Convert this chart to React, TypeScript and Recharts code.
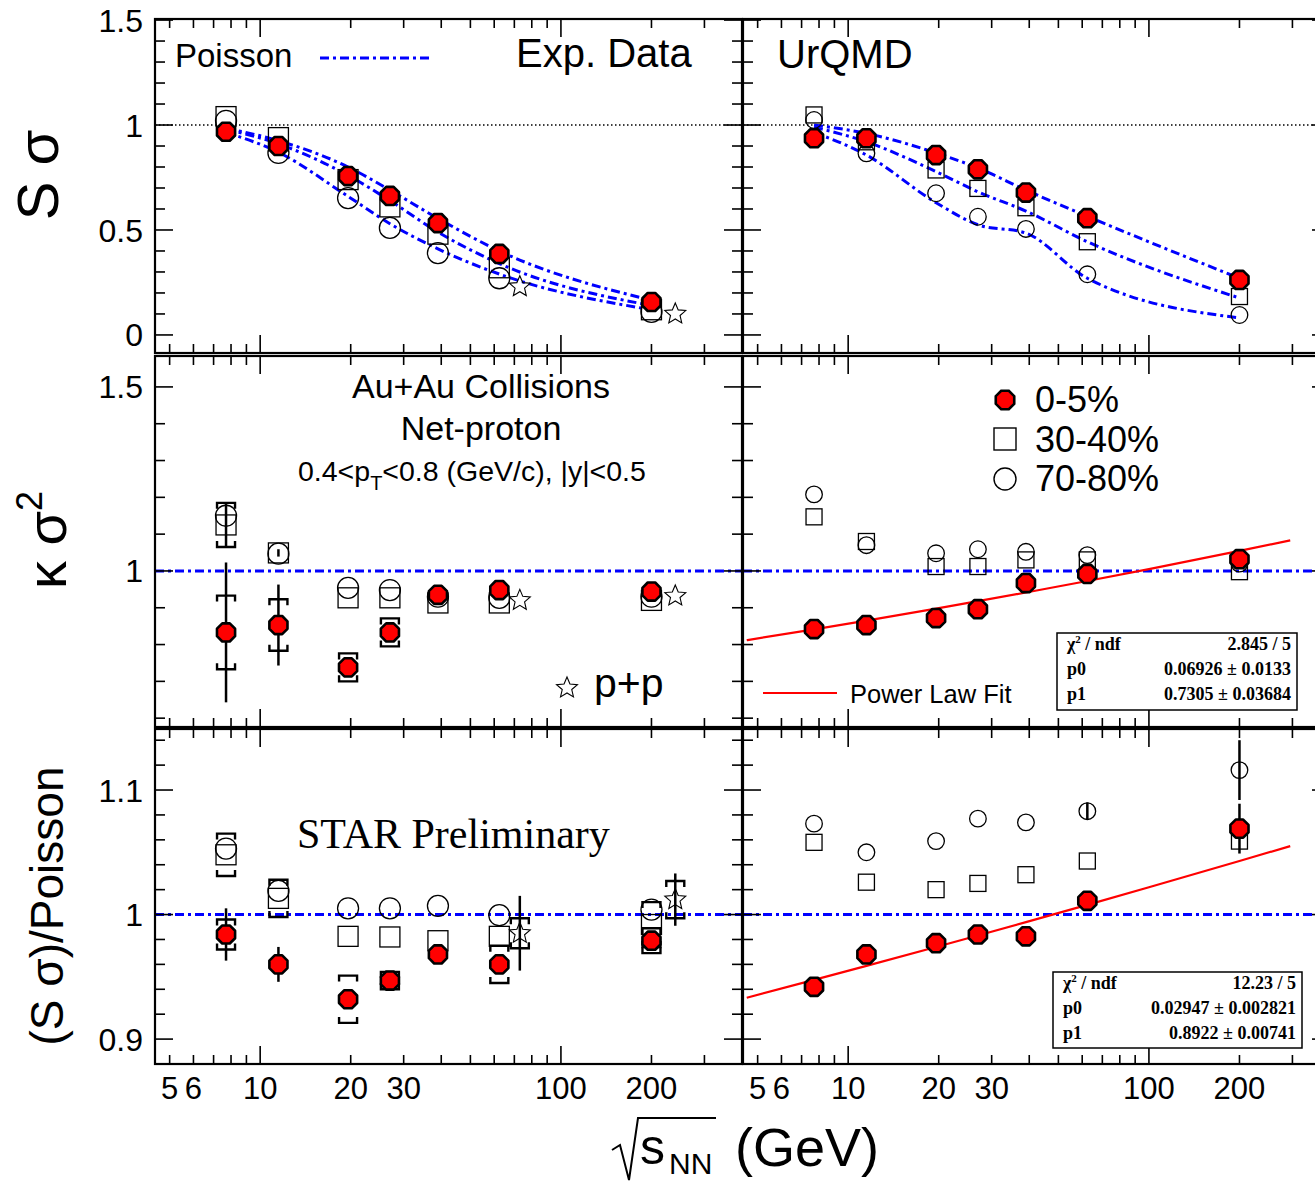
import React from 'react';
import { ComposedChart, Scatter, Line, XAxis, YAxis, ReferenceLine, ErrorBar } from 'recharts';

// ---------------- data ----------------
// Au+Au beam energies, sqrt(s_NN) in GeV
const energies = [7.7, 11.5, 19.6, 27, 39, 62.4, 200];
// p+p reference points, drawn just to the right of 62.4 and 200 GeV
const ppEnergies = [73, 240];

// S*sigma, measured (0-5%, 30-40%, 70-80%) and p+p
const expSsig0to5 = [0.968, 0.9, 0.757, 0.662, 0.533, 0.386, 0.157];
const expSsig30to40 = [1.04, 0.94, 0.74, 0.61, 0.48, 0.32, 0.12];
const expSsig70to80 = [1.02, 0.867, 0.652, 0.51, 0.39, 0.27, 0.11];
const ppSsig = [0.23, 0.1];
// Poisson baselines for the measured S*sigma
const poissonExp0to5 = [0.985, 0.925, 0.8, 0.69, 0.555, 0.4, 0.165];
const poissonExp30to40 = [0.98, 0.91, 0.76, 0.64, 0.49, 0.34, 0.14];
const poissonExp70to80 = [0.965, 0.87, 0.66, 0.53, 0.41, 0.29, 0.12];

// S*sigma, UrQMD
const urqSsig0to5 = [0.937, 0.937, 0.857, 0.789, 0.678, 0.556, 0.262];
const urqSsig30to40 = [1.048, 0.92, 0.786, 0.698, 0.606, 0.444, 0.183];
const urqSsig70to80 = [1.024, 0.865, 0.675, 0.563, 0.505, 0.289, 0.095];
const poissonUrq0to5 = [1.0, 0.96, 0.867, 0.795, 0.69, 0.565, 0.27];
const poissonUrq30to40 = [0.99, 0.92, 0.778, 0.682, 0.59, 0.444, 0.176];
const poissonUrq70to80 = [0.965, 0.857, 0.63, 0.525, 0.485, 0.27, 0.081];

// kappa*sigma^2, measured
const expKsig0to5 = [0.833, 0.853, 0.738, 0.833, 0.935, 0.948, 0.944];
const expKsig0to5Stat = [0.19, 0.11, 0.015, 0.01, 0.008, 0.008, 0.008];
const expKsig0to5Sys = [0.1, 0.07, 0.038, 0.038, 0, 0, 0];
const expKsig30to40 = [1.125, 1.049, 0.927, 0.927, 0.913, 0.913, 0.92];
const expKsig30to40Stat = [0.06, 0.01, 0, 0, 0, 0, 0];
const expKsig30to40Sys = [0.06, 0, 0, 0, 0, 0, 0];
const expKsig70to80 = [1.15, 1.047, 0.954, 0.948, 0.93, 0.927, 0.93];
const ppKsig = [0.92, 0.932];

// kappa*sigma^2, UrQMD
const urqKsig0to5 = [0.842, 0.853, 0.872, 0.896, 0.967, 0.992, 1.032];
const urqKsig30to40 = [1.147, 1.08, 1.012, 1.012, 1.03, 1.03, 0.998];
const urqKsig70to80 = [1.208, 1.07, 1.048, 1.059, 1.052, 1.043, 1.02];

// (S*sigma)/Poisson, measured
const expRatio0to5 = [0.984, 0.96, 0.932, 0.947, 0.968, 0.96, 0.979];
const expRatio0to5Stat = [0.021, 0.014, 0.004, 0.004, 0.003, 0.004, 0.004];
const expRatio0to5Sys = [0.012, 0, 0.019, 0.007, 0, 0.015, 0.01];
const expRatio30to40 = [1.048, 1.013, 0.9825, 0.982, 0.979, 0.9825, 0.992];
const expRatio30to40Sys = [0.017, 0.015, 0, 0, 0, 0, 0.018];
const expRatio70to80 = [1.053, 1.019, 1.005, 1.005, 1.007, 0.9995, 1.004];
const ppRatio = [0.985, 1.012];
const ppRatioStat = [0.03, 0.021];
const ppRatioSys = [0.012, 0.015];

// (S*sigma)/Poisson, UrQMD
const urqRatio0to5 = [0.942, 0.968, 0.977, 0.984, 0.9825, 1.011, 1.069];
const urqRatio0to5Stat = [0, 0, 0, 0, 0, 0, 0.02];
const urqRatio30to40 = [1.058, 1.026, 1.02, 1.025, 1.032, 1.043, 1.059];
const urqRatio70to80 = [1.073, 1.05, 1.059, 1.077, 1.074, 1.083, 1.116];
const urqRatio70to80Stat = [0, 0, 0, 0, 0, 0.007, 0.024];

// power-law fits y = p1 * x^p0 to the UrQMD 0-5% points
const kappaFit = { chi2: '2.845 / 5', p0: 0.06926, p0Err: 0.0133, p1: 0.7305, p1Err: 0.03684 };
const ratioFit = { chi2: '12.23 / 5', p0: 0.02947, p0Err: 0.002821, p1: 0.8922, p1Err: 0.00741 };
const fitRangeX = [4.6, 7.7, 11.5, 19.6, 27, 39, 62.4, 100, 200, 295];

// axis ticks
const xTicks = [5, 6, 7, 8, 9, 10, 20, 30, 40, 50, 60, 70, 80, 90, 100, 200, 300];
const xMajorTicks = [10, 100];
const xTickLabels = [5, 6, 10, 20, 30, 100, 200];
const ySsigTicks = [0, 0.1, 0.2, 0.3, 0.4, 0.5, 0.6, 0.7, 0.8, 0.9, 1, 1.1, 1.2, 1.3, 1.4, 1.5];
const ySsigLabels = [0, 0.5, 1, 1.5];
const yKsigTicks = [0.6, 0.7, 0.8, 0.9, 1, 1.1, 1.2, 1.3, 1.4, 1.5];
const yKsigLabels = [1, 1.5];
const yRatioTicks = [0.88, 0.9, 0.92, 0.94, 0.96, 0.98, 1, 1.02, 1.04, 1.06, 1.08, 1.1, 1.12, 1.14];
const yRatioLabels = [0.9, 1, 1.1];

// ---------------- helpers ----------------
type Pt = { x: number; y: number; err?: number; d?: number };
const pts = (ys: number[], xs: number[] = energies): Pt[] => ys.map((y, i) => ({ x: xs[i], y }));
const ptsErr = (ys: number[], errs: number[], xs: number[] = energies): Pt[] =>
  ys.map((y, i) => ({ x: xs[i], y, err: errs[i] }));
const brackets = (ys: number[], sys: number[], xs: number[] = energies): Pt[] =>
  ys.flatMap((y, i) =>
    sys[i] > 0
      ? [
          { x: xs[i], y: y + sys[i], d: 1 },
          { x: xs[i], y: y - sys[i], d: -1 },
        ]
      : []
  );
const fitCurve = (f: { p0: number; p1: number }): Pt[] =>
  fitRangeX.map((x) => ({ x, y: f.p1 * Math.pow(x, f.p0) }));
const near = (a: number, list: number[]) => list.some((b) => Math.abs(a - b) < 1e-6);
const fmtTick = (v: number) => String(Math.round(v * 100) / 100);

const SANS = 'Liberation Sans, Arial, Helvetica, sans-serif';
const SERIF = 'Liberation Serif, Times New Roman, serif';
const BLUE = '#0000ff';
const DASHDOT = '9 4 3 4';

const octPoints = (cx: number, cy: number, r: number) => {
  const a: string[] = [];
  for (let k = 0; k < 8; k++) {
    const t = ((22.5 + 45 * k) * Math.PI) / 180;
    a.push(`${cx + r * Math.cos(t)},${cy + r * Math.sin(t)}`);
  }
  return a.join(' ');
};
const starPoints = (cx: number, cy: number, R: number, r: number) => {
  const a: string[] = [];
  for (let k = 0; k < 10; k++) {
    const rr = k % 2 === 0 ? R : r;
    const t = (-90 + 36 * k) * (Math.PI / 180);
    a.push(`${cx + rr * Math.cos(t)},${cy + rr * Math.sin(t)}`);
  }
  return a.join(' ');
};

const RedMark = ({ cx, cy }: any) => (
  <polygon points={octPoints(cx, cy, 9.8)} fill="#ff0000" stroke="#000" strokeWidth={2.6} strokeLinejoin="round" />
);
const squareShape = (s: number) => ({ cx, cy }: any) => (
  <rect x={cx - s / 2} y={cy - s / 2} width={s} height={s} fill="none" stroke="#000" strokeWidth={1.3} />
);
const circleShape = (r: number) => ({ cx, cy }: any) => (
  <circle cx={cx} cy={cy} r={r} fill="none" stroke="#000" strokeWidth={1.3} />
);
const StarMark = ({ cx, cy }: any) => (
  <polygon points={starPoints(cx, cy, 11, 5)} fill="none" stroke="#000" strokeWidth={1.1} />
);
const BracketMark = ({ cx, cy, payload }: any) => {
  const d = payload && payload.d ? payload.d : 1;
  return (
    <path d={`M${cx - 9},${cy + d * 6}V${cy}H${cx + 9}V${cy + d * 6}`} fill="none" stroke="#000" strokeWidth={2.4} />
  );
};

// ---------------- layout ----------------
const PLOT_W = 587;
const PAD_TOP = 20;
const X_DOMAIN: [number, number] = [4.47, 400];
const COL_LEFT = [155, 743];
const ROWS = [
  { top: 19, h: 334, domain: [-0.086, 1.505] as [number, number], ticks: ySsigTicks, labels: ySsigLabels },
  { top: 356, h: 371, domain: [0.576, 1.584] as [number, number], ticks: yKsigTicks, labels: yKsigLabels },
  { top: 729, h: 335, domain: [0.88, 1.149] as [number, number], ticks: yRatioTicks, labels: yRatioLabels },
];

type PanelProps = { row: number; col: number; children: React.ReactNode };

function Panel({ row, col, children }: PanelProps) {
  const R = ROWS[row];
  const yw = col === 0 ? 155 : 10;
  const xh = row === 2 ? 70 : 1;
  const showY = col === 0;
  const showX = row === 2;

  const yTick = (p: any) => {
    const { x, y, payload } = p;
    const v = payload.value;
    const major = near(v, R.labels);
    const L = major ? 18 : 10;
    return (
      <g>
        <line x1={x} x2={x + L} y1={y} y2={y} stroke="#000" strokeWidth={1.6} />
        <line x1={x + PLOT_W} x2={x + PLOT_W - L} y1={y} y2={y} stroke="#000" strokeWidth={1.6} />
        {showY && major ? (
          <text x={x - 12} y={y} dy="0.36em" textAnchor="end" fontSize={32} fontFamily={SANS} fill="#000">
            {fmtTick(v)}
          </text>
        ) : null}
      </g>
    );
  };
  const xTick = (p: any) => {
    const { x, y, payload } = p;
    const v = payload.value;
    const L = near(v, xMajorTicks) ? 18 : 9;
    return (
      <g>
        <line x1={x} x2={x} y1={y} y2={y - L} stroke="#000" strokeWidth={1.6} />
        <line x1={x} x2={x} y1={y - R.h} y2={y - R.h + L} stroke="#000" strokeWidth={1.6} />
        {showX && near(v, xTickLabels) ? (
          <text x={x} y={y + 35} textAnchor="middle" fontSize={31} fontFamily={SANS} fill="#000">
            {String(v)}
          </text>
        ) : null}
      </g>
    );
  };

  return (
    <div style={{ position: 'absolute', left: COL_LEFT[col] - yw, top: R.top - PAD_TOP }}>
      <ComposedChart
        width={yw + PLOT_W}
        height={PAD_TOP + R.h + xh}
        margin={{ top: PAD_TOP, right: 0, bottom: 0, left: 0 }}
      >
        <XAxis
          dataKey="x"
          type="number"
          scale="log"
          domain={X_DOMAIN}
          allowDataOverflow
          ticks={xTicks}
          interval={0}
          tickSize={0}
          tickMargin={0}
          axisLine={false}
          tickLine={false}
          height={xh}
          tick={xTick}
        />
        <YAxis
          dataKey="y"
          type="number"
          domain={R.domain}
          allowDataOverflow
          ticks={R.ticks}
          interval={0}
          tickSize={0}
          tickMargin={0}
          axisLine={false}
          tickLine={false}
          width={yw}
          tick={yTick}
        />
        {row === 0 ? (
          <ReferenceLine y={1} stroke="#000" strokeWidth={1.4} strokeDasharray="1.5 2.5" />
        ) : (
          <ReferenceLine y={1} stroke={BLUE} strokeWidth={3} strokeDasharray={DASHDOT} />
        )}
        {children}
      </ComposedChart>
    </div>
  );
}

const series = (key: string, data: Pt[], shape: any, err?: boolean) => (
  <Scatter key={key} data={data} shape={shape} isAnimationActive={false}>
    {err ? <ErrorBar dataKey="err" direction="y" width={0} stroke="#000" strokeWidth={2.5} /> : null}
  </Scatter>
);

const curve = (key: string, data: Pt[], color: string, dash?: string, w = 3) => (
  <Line
    key={key}
    data={data}
    dataKey="y"
    type="monotone"
    stroke={color}
    strokeWidth={w}
    strokeDasharray={dash}
    dot={false}
    activeDot={false}
    isAnimationActive={false}
  />
);

function StatBox({ x, y, w, h, fit }: { x: number; y: number; w: number; h: number; fit: typeof kappaFit }) {
  const fs = 18;
  const rows = [y + 17, y + 42, y + 67];
  const right = x + w - 6;
  return (
    <g fontFamily={SERIF} fontWeight="bold" fontSize={fs} fill="#000">
      <rect x={x} y={y} width={w} height={h} fill="#fff" stroke="#000" strokeWidth={1.5} />
      <text x={x + 10} y={rows[0]}>
        χ<tspan fontSize={11} dy={-7}>2</tspan>
        <tspan dy={7}> / ndf</tspan>
      </text>
      <text x={right} y={rows[0]} textAnchor="end">{fit.chi2}</text>
      <text x={x + 10} y={rows[1]}>p0</text>
      <text x={right} y={rows[1]} textAnchor="end">{`${fit.p0} ± ${fit.p0Err}`}</text>
      <text x={x + 10} y={rows[2]}>p1</text>
      <text x={right} y={rows[2]} textAnchor="end">{`${fit.p1} ± ${fit.p1Err}`}</text>
    </g>
  );
}

export default function App() {
  const bigSq = squareShape(20);
  const bigCi = circleShape(10.5);
  const smSq = squareShape(16);
  const smCi = circleShape(8.3);

  return (
    <div
      style={{
        position: 'absolute',
        left: 0,
        top: 0,
        width: 1315,
        height: 1182,
        overflow: 'hidden',
        background: '#fff',
        fontFamily: SANS,
      }}
    >
      {/* S sigma, data */}
      <Panel row={0} col={0}>
        {series('s-sq', pts(expSsig30to40), bigSq)}
        {series('s-ci', pts(expSsig70to80), bigCi)}
        {series('s-pp', pts(ppSsig, ppEnergies), StarMark)}
        {series('s-red', pts(expSsig0to5), RedMark)}
        {curve('s-p1', pts(poissonExp0to5), BLUE, DASHDOT)}
        {curve('s-p2', pts(poissonExp30to40), BLUE, DASHDOT)}
        {curve('s-p3', pts(poissonExp70to80), BLUE, DASHDOT)}
      </Panel>
      {/* S sigma, UrQMD */}
      <Panel row={0} col={1}>
        {series('us-sq', pts(urqSsig30to40), smSq)}
        {series('us-ci', pts(urqSsig70to80), smCi)}
        {series('us-red', pts(urqSsig0to5), RedMark)}
        {curve('us-p1', pts(poissonUrq0to5), BLUE, DASHDOT)}
        {curve('us-p2', pts(poissonUrq30to40), BLUE, DASHDOT)}
        {curve('us-p3', pts(poissonUrq70to80), BLUE, DASHDOT)}
      </Panel>
      {/* kappa sigma^2, data */}
      <Panel row={1} col={0}>
        {series('k-br1', brackets(expKsig30to40, expKsig30to40Sys), BracketMark)}
        {series('k-br0', brackets(expKsig0to5, expKsig0to5Sys), BracketMark)}
        {series('k-sq', ptsErr(expKsig30to40, expKsig30to40Stat), bigSq, true)}
        {series('k-ci', pts(expKsig70to80), bigCi)}
        {series('k-pp', pts(ppKsig, ppEnergies), StarMark)}
        {series('k-red', ptsErr(expKsig0to5, expKsig0to5Stat), RedMark, true)}
      </Panel>
      {/* kappa sigma^2, UrQMD */}
      <Panel row={1} col={1}>
        {series('uk-sq', pts(urqKsig30to40), smSq)}
        {series('uk-ci', pts(urqKsig70to80), smCi)}
        {series('uk-red', pts(urqKsig0to5), RedMark)}
        {curve('uk-fit', fitCurve(kappaFit), '#ff0000', undefined, 2.2)}
      </Panel>
      {/* ratio to Poisson, data */}
      <Panel row={2} col={0}>
        {series('r-br1', brackets(expRatio30to40, expRatio30to40Sys), BracketMark)}
        {series('r-br0', brackets(expRatio0to5, expRatio0to5Sys), BracketMark)}
        {series('r-brpp', brackets(ppRatio, ppRatioSys, ppEnergies), BracketMark)}
        {series('r-sq', pts(expRatio30to40), bigSq)}
        {series('r-ci', pts(expRatio70to80), bigCi)}
        {series('r-pp', ptsErr(ppRatio, ppRatioStat, ppEnergies), StarMark, true)}
        {series('r-red', ptsErr(expRatio0to5, expRatio0to5Stat), RedMark, true)}
      </Panel>
      {/* ratio to Poisson, UrQMD */}
      <Panel row={2} col={1}>
        {series('ur-sq', pts(urqRatio30to40), smSq)}
        {series('ur-ci', ptsErr(urqRatio70to80, urqRatio70to80Stat), smCi, true)}
        {series('ur-red', ptsErr(urqRatio0to5, urqRatio0to5Stat), RedMark, true)}
        {curve('ur-fit', fitCurve(ratioFit), '#ff0000', undefined, 2.2)}
      </Panel>

      <svg
        width={1315}
        height={1182}
        style={{ position: 'absolute', left: 0, top: 0, pointerEvents: 'none' }}
        fontFamily={SANS}
      >
        {/* panel frames */}
        {ROWS.map((r, ri) =>
          COL_LEFT.map((cl, ci) => (
            <rect
              key={`f${ri}${ci}`}
              x={cl}
              y={r.top}
              width={PLOT_W}
              height={r.h}
              fill="none"
              stroke="#000"
              strokeWidth={2.2}
            />
          ))
        )}

        {/* row 1 labels */}
        <text x={175} y={67} fontSize={33}>Poisson</text>
        <line x1={320} x2={430} y1={58} y2={58} stroke={BLUE} strokeWidth={3} strokeDasharray={DASHDOT} />
        <text x={516} y={67} fontSize={40}>Exp. Data</text>
        <text x={777} y={68} fontSize={40}>UrQMD</text>

        {/* row 2 labels */}
        <text x={481} y={398} fontSize={34} textAnchor="middle">Au+Au Collisions</text>
        <text x={481} y={440} fontSize={34} textAnchor="middle">Net-proton</text>
        <text x={298} y={481} fontSize={28.5}>
          {'0.4<p'}
          <tspan fontSize={20} dy={9}>T</tspan>
          <tspan dy={-9}>{'<0.8 (GeV/c), |y|<0.5'}</tspan>
        </text>
        <polygon points={starPoints(567, 688, 11, 5)} fill="none" stroke="#000" strokeWidth={1.1} />
        <text x={594} y={697} fontSize={41}>p+p</text>

        {/* centrality legend */}
        <polygon points={octPoints(1005, 400, 10)} fill="#ff0000" stroke="#000" strokeWidth={2.6} />
        <rect x={994} y={428} width={22} height={22} fill="none" stroke="#000" strokeWidth={1.4} />
        <circle cx={1005} cy={479} r={11} fill="none" stroke="#000" strokeWidth={1.4} />
        <text x={1035} y={412} fontSize={36}>0-5%</text>
        <text x={1035} y={452} fontSize={36}>30-40%</text>
        <text x={1035} y={491} fontSize={36}>70-80%</text>

        <line x1={763} x2={837} y1={693} y2={693} stroke="#ff0000" strokeWidth={2.2} />
        <text x={850} y={703} fontSize={25.5}>Power Law Fit</text>
        <StatBox x={1057} y={633} w={240} h={77} fit={kappaFit} />

        {/* row 3 labels */}
        <text x={297} y={848} fontSize={42} fontFamily={SERIF}>STAR Preliminary</text>
        <StatBox x={1053} y={972} w={249} h={76} fit={ratioFit} />

        {/* y titles */}
        <text transform="translate(58,175) rotate(-90)" textAnchor="middle" fontSize={58}>S σ</text>
        <text transform="translate(66,540) rotate(-90)" textAnchor="middle" fontSize={56}>
          κ σ<tspan fontSize={36} dy={-24}>2</tspan>
        </text>
        <text transform="translate(63,906) rotate(-90)" textAnchor="middle" fontSize={46}>(S σ)/Poisson</text>

        {/* x title */}
        <path d="M612,1150 L620,1145 L629,1180 L638,1118 L716,1118" fill="none" stroke="#000" strokeWidth={2} />
        <text x={640} y={1164} fontSize={50}>s</text>
        <text x={669} y={1174} fontSize={30}>NN</text>
        <text x={735} y={1166} fontSize={54}>(GeV)</text>
      </svg>
    </div>
  );
}
